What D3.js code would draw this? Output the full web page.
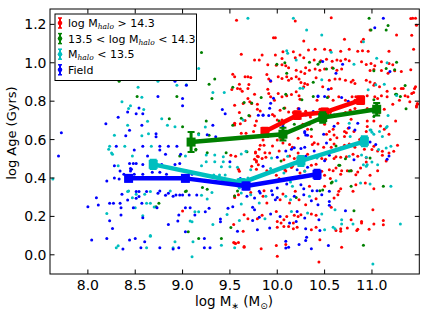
<!DOCTYPE html>
<html><head><meta charset="utf-8">
<script src="https://cdn.jsdelivr.net/npm/d3@7"></script>
<style>
html,body{margin:0;padding:0;background:#fff;}
text{font-family:"DejaVu Sans",sans-serif;}
</style></head>
<body><div id="chart"></div>
<script>
// ---- data ----
const xTicks = [8.0, 8.5, 9.0, 9.5, 10.0, 10.5, 11.0];
const yTicks = [0.0, 0.2, 0.4, 0.6, 0.8, 1.0, 1.2];
const seriesNames = ["log Mhalo > 14.3", "13.5 < log Mhalo < 14.3", "Mhalo < 13.5", "Field"];

const redPts = [[9.00,0.228],[9.54,0.158],[9.56,0.059],[9.55,0.676],[9.53,0.94],[9.55,0.685],[9.62,0.633],[9.77,0.535],[9.78,0.49],[9.80,0.51],[9.51,0.518],[9.59,0.445],[9.55,0.306],[9.72,0.324],
[9.57,1.222],[10.19,1.217],[11.41,1.231],[11.47,1.196],[9.96,1.13],[9.98,1.13],[10.28,1.113],[10.71,1.123],[10.91,1.123],[10.89,1.11],[11.26,1.144],[10.57,1.235],[10.98,1.171],[11.43,1.232],[11.46,1.232],[11.42,1.143],[11.44,1.07],[9.62,1.044],
[10.33,1.066],[10.40,1.07],[10.50,1.07],[10.56,1.065],[10.67,1.06],[10.76,1.07],[10.85,1.06],[10.90,1.062],[10.96,1.06],[11.18,1.06],[10.06,1.057],[10.17,1.057],
[9.84,1.04],[9.98,1.04],[10.05,1.022],[10.19,1.026],[10.24,1.04],[10.28,1.026],[9.76,1.014],[9.81,1.014],
[10.39,1.015],[10.46,1.01],[10.52,1.018],[10.58,1.008],[10.63,1.015],[10.67,1.01],[10.72,1.018],[10.76,1.01],
[10.89,1.005],[10.94,0.991],[10.99,0.996],[11.03,0.984],[11.10,1.005],[11.18,0.996],[11.22,0.99],
[9.90,0.99],[9.99,0.987],[10.05,0.99],[10.09,0.985],[10.12,0.974],
[10.30,0.974],[10.20,0.961],[10.25,0.953],[10.29,0.944],[10.34,0.961],[10.40,0.968],[10.45,0.961],[10.50,0.968],[10.58,0.974],[10.63,0.961],[10.68,0.968],
[10.98,0.96],[11.02,0.965],[11.10,0.96],[11.24,0.958],[11.17,0.945],[11.31,0.955],[11.41,0.964],
[9.55,0.927],[9.66,0.927],[9.69,0.927],[9.72,0.923],[9.89,0.939],[9.91,0.915],[9.93,0.904],
[10.01,0.927],[10.05,0.918],[10.10,0.927],[10.12,0.909],[10.15,0.918],[10.20,0.927],[10.23,0.915],[10.25,0.897],[10.29,0.892],[10.28,0.875],[10.32,0.887],
[10.41,0.922],[10.48,0.875],[10.55,0.909],[10.57,0.866],[10.61,0.915],[10.66,0.915],[10.72,0.909],
[10.78,0.90],[10.80,0.909],[10.82,0.892],[10.94,0.909],[10.98,0.90],[11.03,0.892],[11.08,0.875],
[11.02,0.883],[11.24,0.866],[11.16,0.852],[11.31,0.866],[11.45,0.866],[11.46,0.875],[11.33,0.866],[11.42,0.84],[11.44,0.845],
[9.58,0.866],[9.70,0.887],[9.63,0.852],[9.52,0.861],[9.61,0.864],[9.69,0.866],[9.60,0.888],
[9.69,0.814],[9.71,0.797],[9.73,0.788],[9.76,0.836],[9.79,0.784],[9.90,0.862],
[9.91,0.84],[9.93,0.823],[9.97,0.805],[10.01,0.84],[10.05,0.823],
[10.10,0.828],[10.15,0.835],[10.20,0.849],[10.23,0.828],[10.24,0.81],
[10.42,0.805],[10.54,0.823],[10.59,0.805],[10.65,0.823],[10.72,0.805],[10.79,0.823],[10.82,0.805],[10.83,0.823],
[10.95,0.828],[11.03,0.823],[11.06,0.814],[11.10,0.828],[11.16,0.823],[11.29,0.805],[11.35,0.828],[11.38,0.823],[11.40,0.797],[11.22,0.784],
[11.48,0.788],[11.47,0.77],[11.47,0.775],[11.48,0.784],
[9.55,0.779],[9.64,0.788],[9.60,0.741],[9.79,0.758],[9.71,0.723],[9.95,0.73],[9.78,0.697],[9.82,0.749],[9.97,0.723],
[10.08,0.765],[10.03,0.753],[10.12,0.744],
[10.17,0.741],[10.22,0.762],[10.30,0.748],[10.35,0.718],[10.45,0.758],[10.50,0.744],[10.56,0.741],[10.61,0.727],[10.66,0.73],[10.72,0.741],[10.77,0.753],[10.82,0.762],
[10.95,0.762],[11.08,0.741],[11.13,0.758],[10.78,0.706],[10.95,0.697],[11.02,0.697],[11.25,0.697],
[9.55,0.683],[9.61,0.683],[9.66,0.70],[9.765,0.673],[9.67,0.633],[9.75,0.642],[10.00,0.702],[10.05,0.702],[10.34,0.68],[10.27,0.68],[10.50,0.68],
[10.55,0.642],[10.60,0.624],[10.71,0.642],[10.75,0.659],[10.64,0.685],[10.71,0.616],[10.81,0.642],[10.94,0.642],[10.95,0.668],[10.59,0.654],[10.32,0.654],
[9.90,0.616],[9.85,0.598],[10.00,0.598],[10.22,0.607],[10.36,0.616],[10.91,0.598],[10.63,0.61],[10.73,0.636],[11.09,0.671],[11.13,0.654],[11.18,0.628],
[9.87,0.532],[9.81,0.55],[9.76,0.497],[9.78,0.445],[9.95,0.567],[10.04,0.601],[10.02,0.541],[10.13,0.515],[10.15,0.454],[10.22,0.506],[10.09,0.437],[10.32,0.523],[10.29,0.437],[10.41,0.471],[10.51,0.497],[10.56,0.601],[10.52,0.628],[10.60,0.541],[10.62,0.511],[10.67,0.419],[10.73,0.511],[10.80,0.523],[10.87,0.601],[10.92,0.55],[10.94,0.506],[11.06,0.541],[11.11,0.518],[11.15,0.489],[10.39,0.584],
[9.82,0.57],[9.86,0.57],[10.06,0.582],[10.13,0.574],[10.16,0.56],[10.37,0.574],[10.43,0.577],[10.49,0.56],[10.57,0.56],[10.60,0.577],[10.67,0.556],[10.71,0.57],[10.76,0.577],[10.82,0.56],[11.00,0.548],[11.02,0.565],[11.11,0.539],[11.18,0.53],[11.23,0.539],[11.27,0.57],
[9.56,0.513],[9.77,0.53],[9.79,0.513],[9.78,0.483],[9.80,0.469],[9.84,0.501],[9.88,0.508],[9.92,0.53],[10.07,0.495],[10.18,0.501],[10.22,0.53],[10.36,0.504],[10.47,0.501],[10.60,0.501],[10.67,0.508],[10.85,0.513],[10.94,0.483],
[9.60,0.435],[9.73,0.461],[9.89,0.438],[9.99,0.414],[10.02,0.397],[10.08,0.443],[10.16,0.461],[10.24,0.426],[10.36,0.466],[10.44,0.426],[10.47,0.435],[10.50,0.414],[10.55,0.443],[10.59,0.438],[10.62,0.452],[10.68,0.438],[10.74,0.438],[10.78,0.438],[10.83,0.417],[10.85,0.431],[10.88,0.452],[10.98,0.414],[11.06,0.438],
[9.86,0.334],[10.19,0.331],[10.34,0.357],[10.50,0.357],[10.56,0.397],[10.65,0.331],[10.67,0.344],[10.83,0.365],[10.93,0.374],[11.02,0.344],
[9.55,0.299],[9.59,0.313],[9.85,0.305],[9.89,0.27],[10.03,0.287],[10.06,0.317],[10.13,0.27],[10.23,0.287],[10.30,0.261],[10.41,0.292],[10.60,0.296],[10.64,0.313],[10.80,0.331],
[9.65,0.209],[9.69,0.188],[9.79,0.188],[9.84,0.206],[9.99,0.226],[10.07,0.183],[10.10,0.20],[10.18,0.206],[10.22,0.20],[10.25,0.209],[10.36,0.213],[10.41,0.206],[10.57,0.247],[10.78,0.183],[10.89,0.174],[11.01,0.235],[11.12,0.178],[10.00,0.174],[10.04,0.166],[10.17,0.166],
[9.64,0.122],[10.00,0.143],[10.07,0.148],[10.12,0.148],[10.17,0.136],[10.21,0.143],[10.36,0.131],[10.41,0.143],[10.67,0.136],[10.62,0.126],[10.67,0.122],[10.74,0.14],[10.84,0.126],[10.89,0.166],[11.02,0.16],[11.12,0.157],[10.97,0.133],[10.85,0.133],
[9.55,0.061],[9.65,0.039],[9.83,0.032],[9.99,0.049],[10.09,0.053],[10.45,0.079],[10.68,0.039],[10.00,-0.008],[10.44,-0.037],[9.65,0.043],[9.59,0.064],[9.54,0.064]];

const greenPts = [[9.20,1.054],[9.34,0.915],[9.53,0.873],[8.33,0.904],[9.31,0.814],[8.52,0.824],[8.94,0.824],[8.86,0.709],[9.00,0.667],[9.28,0.888],[9.14,0.55],
[8.97,0.515],[8.75,0.268],[8.72,0.25],[9.06,0.12],[9.17,0.085],[9.41,0.085],[9.14,0.546],[9.28,0.622],[9.26,0.532],[9.46,0.532],[9.68,0.537],[9.04,0.332],[9.21,0.35],[9.26,0.341],[9.58,0.332],[9.55,0.306],[9.25,0.697],[9.17,0.631],[9.03,0.329],
[10.97,1.232],[11.17,1.194],[11.15,1.171],[10.99,1.171],[9.996,0.992],[10.34,1.003],[10.43,0.992],[10.52,0.968],[10.59,0.971],[10.38,0.899],[11.02,0.958],[11.26,1.003],[11.35,0.881],[9.73,0.79],[9.70,0.725],[10.07,0.763],[10.26,0.807],[10.38,0.824],[10.53,0.819],[11.02,0.807],[11.30,0.824],[11.36,0.76],[11.02,0.72],
[10.08,1.0],[10.45,1.004],[11.15,0.97],[11.24,0.963],[11.26,0.836],[9.83,0.819],[9.62,0.711],[9.53,0.674],[9.65,0.793],[10.10,0.945],
[10.72,0.50],[10.98,0.504],[10.65,0.466],[10.78,0.438],[10.45,0.334],[10.57,0.374],[10.78,0.357],[11.12,0.357],[10.20,0.299],[10.81,0.23],[10.91,0.05],[9.51,0.142],[10.58,0.379],[10.48,0.337],
[10.09,0.836],[10.02,0.697],[10.06,0.68],[10.18,0.68],[10.36,0.654],[10.62,0.567],[10.76,0.436],[10.66,0.466],[10.04,0.489],[11.25,0.836]];

const cyanPts = [[9.17,0.97],[8.74,0.904],[8.53,0.873],[8.94,0.883],[9.04,0.885],[9.32,0.845],[9.44,0.845],[8.57,0.82],[8.36,0.797],[8.45,0.776],[8.43,0.762],[8.59,0.756],[8.63,0.695],[8.78,0.709],[8.42,0.675],[8.84,0.675],[8.92,0.667],[9.24,0.665],[8.28,0.622],[8.57,0.62],[8.64,0.631],[9.17,0.625],[8.22,0.55],[8.25,0.53],
[7.63,0.395],[8.23,0.565],[8.39,0.565],[8.67,0.565],[8.26,0.523],[8.47,0.515],[9.03,0.515],[8.32,0.464],[9.20,0.464],[9.25,0.485],[9.34,0.485],[9.43,0.485],[9.25,0.52],[9.34,0.52],[9.43,0.511],[9.50,0.459],[9.41,0.459],[9.33,0.416],[9.39,0.416],[9.45,0.416],
[8.43,0.332],[8.66,0.329],[8.87,0.332],[8.47,0.297],[8.62,0.268],[8.66,0.268],[8.20,0.215],[8.50,0.245],[8.58,0.203],[9.13,0.224],[9.17,0.224],[9.10,0.172],[9.32,0.158],[9.47,0.21],[8.42,0.33],[8.51,0.315],[8.60,0.315],[8.70,0.249],[9.08,0.176],[9.20,0.31],[9.26,0.29],[9.31,0.325],
[8.30,0.037],[8.32,0.047],[8.66,0.097],[8.62,0.037],[8.90,0.037],[8.92,0.068],[9.11,0.068],[9.10,-0.01],[9.41,0.05],[9.55,0.037],[8.66,0.10],
[11.07,0.548],[11.15,0.556],[11.20,0.565],[9.62,0.525],[9.67,0.539],[9.94,0.504],[10.11,0.513],[10.42,0.504],[10.76,0.513],[10.89,0.52],[10.94,0.508],[10.95,0.469],[11.00,0.483],[11.06,0.469],[10.91,0.469],
[9.58,0.456],[9.72,0.443],[9.69,0.40],[9.93,0.449],[9.96,0.431],[10.07,0.426],[10.29,0.435],[10.39,0.417],[10.94,0.461],
[9.60,0.348],[9.75,0.365],[10.14,0.379],[10.16,0.357],[10.62,0.386],[10.88,0.374],[10.98,0.369],[11.20,0.357],
[9.62,0.322],[9.72,0.313],[9.81,0.27],[9.88,0.305],[10.09,0.305],[10.14,0.287],[10.34,0.305],[9.62,0.265],[9.60,0.178],[9.87,0.188],[10.15,0.226],[10.32,0.218],[10.47,0.213],[10.61,0.235],[10.68,0.183],[11.30,0.16],
[10.50,0.131],[10.59,0.143],[10.61,0.136],[10.68,0.16],[10.80,0.16],[11.01,-0.048],
[9.69,1.232],[10.17,1.232],[10.31,1.171],[10.47,1.145],[10.91,1.11],[10.57,1.055],[10.10,1.062],[10.11,1.05],[10.20,1.015],[10.81,0.992],[11.05,1.024],[11.16,1.0],
[10.47,0.911],[10.24,0.867],[10.27,0.867],[10.96,0.859],[11.04,0.885],[11.13,0.888],[11.26,0.829],[9.64,0.702],[11.01,0.746],[11.17,0.725],
[10.76,0.685],[10.98,0.65],[11.00,0.638],[11.02,0.628],[11.08,0.642],[11.16,0.668],[10.77,0.616],[11.11,0.616],[10.93,0.604],[11.15,0.662],[10.99,0.65]];

const bluePts = [[8.92,0.904],[9.04,0.883],[8.74,0.824],[9.00,0.814],[8.54,0.765],[9.00,0.776],[9.42,0.756],[9.45,0.734],[8.42,0.744],[8.51,0.734],[8.58,0.734],[8.32,0.716],[8.19,0.683],[8.57,0.675],[9.32,0.675],[8.44,0.648],[7.72,0.635],[8.40,0.62],[8.72,0.631],[8.72,0.615],[9.26,0.625],[9.35,0.615],
[7.69,0.515],[8.30,0.565],[8.49,0.546],[8.58,0.565],[8.76,0.565],[8.76,0.546],[8.85,0.565],[8.94,0.565],[8.63,0.515],[8.82,0.523],[8.98,0.523],[8.28,0.464],[8.44,0.476],[8.48,0.476],[8.51,0.476],[8.45,0.45],[8.45,0.437],[8.58,0.47],[8.34,0.437],[8.78,0.47],[8.92,0.47],[8.97,0.476],[9.04,0.437],[9.10,0.42],[9.50,0.485],[8.20,0.384],[8.33,0.395],
[8.28,0.40],[8.38,0.42],[8.68,0.43],[8.76,0.43],[8.83,0.42],[8.46,0.445],[8.49,0.42],[8.58,0.42],[8.74,0.32],[8.82,0.31],[8.90,0.305],
[8.36,0.315],[8.51,0.329],[8.54,0.329],[8.62,0.329],[8.76,0.332],[8.85,0.32],[8.93,0.311],[8.97,0.311],[9.00,0.311],[9.07,0.311],[9.15,0.311],[8.09,0.297],[8.23,0.268],[8.27,0.268],[8.34,0.268],[8.42,0.285],[8.51,0.294],[8.54,0.303],[8.57,0.268],[8.73,0.245],[8.00,0.25],[8.11,0.259],[8.35,0.245],[8.35,0.207],[8.23,0.177],[8.26,0.137],[8.48,0.245],[8.58,0.193],[8.85,0.158],[8.95,0.176],[8.96,0.207],[9.03,0.245],[9.08,0.245],[9.13,0.207],[9.24,0.224],[9.28,0.242],[9.40,0.186],[9.40,0.172],[9.48,0.242],[9.53,0.25],
[8.04,0.077],[8.20,0.085],[8.37,0.03],[8.44,0.077],[8.50,0.085],[8.60,0.068],[8.56,0.037],[8.76,0.037],[8.90,0.03],[8.96,0.037],[9.03,0.12],[9.23,0.085],[9.23,0.037],[9.29,0.037],
[10.25,0.553],[10.29,0.56],[10.52,0.582],[10.91,0.582],[10.00,0.508],[10.30,0.513],[10.50,0.49],[10.55,0.518],[10.81,0.495],[9.61,0.397],[9.85,0.461],[10.00,0.443],[10.21,0.443],[10.32,0.456],
[9.58,0.365],[9.70,0.379],[9.81,0.331],[9.94,0.334],[10.00,0.348],[10.10,0.369],[10.25,0.365],[10.28,0.344],[10.37,0.334],[10.42,0.334],[10.55,0.331],
[9.68,0.305],[9.76,0.296],[9.82,0.322],[9.95,0.313],[9.98,0.287],[10.00,0.299],[10.18,0.305],[10.28,0.313],[10.36,0.282],[10.43,0.261],[10.47,0.313],[10.55,0.278],
[9.74,0.247],[9.76,0.235],[9.74,0.178],[9.81,0.195],[9.93,0.213],[10.03,0.20],[10.21,0.226],[10.29,0.192],[10.44,0.183],[10.55,0.258],[10.72,0.23],[10.13,0.166],[10.20,0.174],
[9.58,0.122],[9.79,0.131],[9.92,0.14],[10.30,0.136],[10.45,0.126],[10.09,0.07],[10.09,0.035],[10.12,0.039],[10.23,0.053],[10.30,0.074],[10.31,0.091],[10.36,0.032],[10.54,0.049],
[10.48,1.006],[10.69,0.992],[10.62,0.945],[11.19,0.954],[11.03,1.183],[11.12,1.232],[9.93,0.906],[9.96,0.815],[10.43,0.824],[10.50,0.824],[10.68,0.819],[9.85,0.728],[9.91,0.725],[9.92,0.763],[9.93,0.789],[10.23,0.76],[10.30,0.728],[10.38,0.746],[10.60,0.728],
[10.06,0.668],[10.29,0.642],[10.30,0.624],[10.49,0.628],[10.85,0.685],[10.49,0.694],[10.43,0.827],[10.54,0.862],[10.75,0.80],[10.82,0.65],[10.60,0.67],[10.76,0.662],
[10.98,0.587],[11.04,0.575],[11.16,0.497],[11.18,0.515],[10.29,0.636],[10.32,0.622],[10.15,0.55],[10.18,0.558],[10.09,0.54],[10.39,0.54],[10.43,0.515],[9.85,0.727],[9.80,0.727]];

// binned means with error bars
const redX = [9.87, 10.21, 10.50, 10.88],  redY = [0.642, 0.727, 0.742, 0.805],  redErr = [0.02, 0.02, 0.02, 0.02];
const greenX = [9.09, 10.06, 10.48, 11.05], greenY = [0.587, 0.628, 0.715, 0.758], greenErr = [0.052, 0.033, 0.027, 0.033];
const cyanX = [8.69, 9.62, 10.25, 10.92],  cyanY = [0.471, 0.375, 0.489, 0.591], cyanErr = [0.024, 0.02, 0.026, 0.026];
const blueX = [8.43, 9.03, 9.67, 10.42],   blueY = [0.398, 0.398, 0.358, 0.419], blueErr = [0.015, 0.015, 0.018, 0.024];

// ---- drawing ----
const W = 429, H = 322;
const L = 50, R = 419.3, T = 9, B = 274;
const colors = {red:"#ff0000", green:"#008000", cyan:"#00bfbf", blue:"#0000ff"};

const svg = d3.select("#chart").append("svg").attr("width", W).attr("height", H);
const x = d3.scaleLinear().domain([7.6, 11.5]).range([L, R]);
const y = d3.scaleLinear().domain([-0.1, 1.28]).range([B, T]);

svg.append("clipPath").attr("id","clip").append("rect")
  .attr("x", L).attr("y", T).attr("width", R-L).attr("height", B-T);

const plot = svg.append("g").attr("clip-path","url(#clip)");

// scatter
[[redPts,colors.red],[greenPts,colors.green],[cyanPts,colors.cyan],[bluePts,colors.blue]].forEach(([pts,c])=>{
  plot.append("g").selectAll("circle").data(pts).join("circle")
    .attr("cx", d=>x(d[0])).attr("cy", d=>y(d[1])).attr("r", 1.5).attr("fill", c);
});

// trend lines with error bars
const trends = [
  [redX, redY, redErr, colors.red],
  [greenX, greenY, greenErr, colors.green],
  [cyanX, cyanY, cyanErr, colors.cyan],
  [blueX, blueY, blueErr, colors.blue]
];
trends.forEach(([xs, ys, es, c])=>{
  const pts = xs.map((v,i)=>({x:v, y:ys[i], e:es[i]}));
  const g = plot.append("g");
  g.append("path").datum(pts)
    .attr("d", d3.line().x(d=>x(d.x)).y(d=>y(d.y)))
    .attr("fill","none").attr("stroke", c).attr("stroke-width", 4.5).attr("stroke-linejoin","round");
  g.selectAll("line.eb").data(pts).join("line").attr("class","eb")
    .attr("x1", d=>x(d.x)).attr("x2", d=>x(d.x))
    .attr("y1", d=>y(d.y - d.e)).attr("y2", d=>y(d.y + d.e))
    .attr("stroke", c).attr("stroke-width", 3);
  [-1,1].forEach(s=>{
    g.selectAll("line.cap"+(s>0?"p":"m")).data(pts).join("line").attr("class","cap"+(s>0?"p":"m"))
      .attr("x1", d=>x(d.x)-3.5).attr("x2", d=>x(d.x)+3.5)
      .attr("y1", d=>y(d.y + s*d.e)).attr("y2", d=>y(d.y + s*d.e))
      .attr("stroke", c).attr("stroke-width", 2);
  });
  g.selectAll("rect").data(pts).join("rect")
    .attr("x", d=>x(d.x)-4.5).attr("y", d=>y(d.y)-4.5)
    .attr("width", 9).attr("height", 9).attr("fill", c);
});

// frame
svg.append("rect").attr("x", L).attr("y", T).attr("width", R-L).attr("height", B-T)
  .attr("fill","none").attr("stroke","#000").attr("stroke-width",1);

// ticks (inward, all sides)
const tk = 4.5;
const axG = svg.append("g").attr("stroke","#000").attr("stroke-width",1);
xTicks.forEach(v=>{
  axG.append("line").attr("x1",x(v)).attr("x2",x(v)).attr("y1",B).attr("y2",B-tk);
  axG.append("line").attr("x1",x(v)).attr("x2",x(v)).attr("y1",T).attr("y2",T+tk);
});
yTicks.forEach(v=>{
  axG.append("line").attr("x1",L).attr("x2",L+tk).attr("y1",y(v)).attr("y2",y(v));
  axG.append("line").attr("x1",R).attr("x2",R-tk).attr("y1",y(v)).attr("y2",y(v));
});
svg.append("g").selectAll("text").data(xTicks).join("text")
  .attr("x", d=>x(d)).attr("y", 289.5).attr("text-anchor","middle")
  .attr("font-size", 14).attr("fill","#000").text(d=>d.toFixed(1));
svg.append("g").selectAll("text").data(yTicks).join("text")
  .attr("x", 46.5).attr("y", d=>y(d)+5).attr("text-anchor","end")
  .attr("font-size", 14).attr("fill","#000").text(d=>d.toFixed(1));

// axis labels
const xl = svg.append("text").attr("x", 234).attr("y", 305.5).attr("text-anchor","middle")
  .attr("font-size", 13.5).attr("fill","#000");
xl.append("tspan").text("log M");
xl.append("tspan").attr("font-size", 9).attr("dy", 3).text("\u2217");
xl.append("tspan").attr("dy", -3).text(" (M");
xl.append("tspan").attr("font-size", 9).attr("dy", 3).text("\u2299");
xl.append("tspan").attr("dy", -3).text(")");

svg.append("text").attr("transform","translate(15.5,133) rotate(-90)")
  .attr("text-anchor","middle").attr("font-size", 13).attr("fill","#000")
  .text("log Age (Gyrs)");

// legend
const lg = svg.append("g");
lg.append("rect").attr("x", 55).attr("y", 14).attr("width", 141.5).attr("height", 66.5)
  .attr("fill","#fff").attr("stroke","#000").attr("stroke-width",1);
const legItems = [
  {c:colors.red, parts:[["log M",0],["halo",1],[" > 14.3",0]]},
  {c:colors.green, parts:[["13.5 < log M",0],["halo",1],[" < 14.3",0]]},
  {c:colors.cyan, parts:[["M",0],["halo",1],[" < 13.5",0]]},
  {c:colors.blue, parts:[["Field",0]]}
];
legItems.forEach((it,i)=>{
  const cy = 23 + i*15.6;
  lg.append("line").attr("x1",60).attr("x2",60).attr("y1",cy-5).attr("y2",cy+5)
    .attr("stroke", it.c).attr("stroke-width", 2);
  lg.append("line").attr("x1",58).attr("x2",62).attr("y1",cy-5).attr("y2",cy-5).attr("stroke",it.c).attr("stroke-width",1.5);
  lg.append("line").attr("x1",58).attr("x2",62).attr("y1",cy+5).attr("y2",cy+5).attr("stroke",it.c).attr("stroke-width",1.5);
  lg.append("circle").attr("cx",60).attr("cy",cy).attr("r",2.3).attr("fill",it.c);
  const t = lg.append("text").attr("x", 68).attr("y", cy+4).attr("font-size", 11).attr("fill","#000");
  let sub = false;
  it.parts.forEach(([s, isSub])=>{
    const ts = t.append("tspan").text(s);
    if (isSub) { ts.attr("font-size", 7.5).attr("font-style","italic").attr("font-family","'DejaVu Serif',serif").attr("dy", 2); sub = true; }
    else if (sub) { ts.attr("dy", -2); sub = false; }
  });
});
</script>
</body></html>
